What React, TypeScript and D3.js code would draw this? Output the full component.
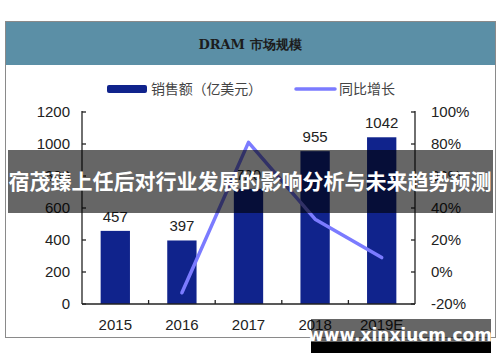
import React from "react";
import * as d3 from "d3";

const years = ["2015", "2016", "2017", "2018", "2019E"];
const sales = [457, 397, 720, 955, 1042];
const growthYears = ["2016", "2017", "2018", "2019E"];
const growth = [-13, 81, 33, 9];
const leftTicks = [0, 200, 400, 600, 800, 1000, 1200];
const rightTicks = [-20, 0, 20, 40, 60, 80, 100];

const W = 500;
const H = 362;
const plot = { left: 82, right: 415, top: 112, bottom: 304 };
const numFont = "'Liberation Sans', Arial, sans-serif";
const cjkFont = "'Noto Sans CJK SC', sans-serif";

export default function App() {
  const x = d3
    .scaleBand<string>()
    .domain(years)
    .range([plot.left, plot.right])
    .paddingInner(0.56)
    .paddingOuter(0.28);
  const y = d3.scaleLinear().domain([0, 1200]).range([plot.bottom, plot.top]);
  const y2 = d3.scaleLinear().domain([-20, 100]).range([plot.bottom, plot.top]);
  const step = (plot.right - plot.left) / years.length;
  const cx = (k: string) => (x(k) as number) + x.bandwidth() / 2;

  const line = d3
    .line<number>()
    .x((d, i) => cx(growthYears[i]))
    .y((d) => y2(d));

  return (
    <svg
      width={W}
      height={H}
      style={{ position: "absolute", left: 0, top: 0, background: "#fff" }}
    >
      {/* frame + header */}
      <rect x={5.5} y={21.5} width={490} height={316} fill="#fff" stroke="#8a8a8a" strokeWidth={1} />
      <rect x={6} y={22} width={489} height={43} fill="#5b8fa6" />
      <text
        x={250}
        y={49}
        textAnchor="middle"
        fontFamily="'DejaVu Serif', serif"
        fontWeight="bold"
        fontSize={13}
        fill="#1c1c1c"
      >
        DRAM 市场规模
      </text>

      {/* legend */}
      <rect x={107} y={85} width={40} height={8} rx={2} fill="#10238c" />
      <text x={151} y={94} fontFamily={cjkFont} fontSize={14} fill="#444" textLength={111}>
        销售额（亿美元）
      </text>
      <line x1={296} x2={335} y1={89} y2={89} stroke="#7b7bff" strokeWidth={3.5} strokeLinecap="round" />
      <text x={339} y={94} fontFamily={cjkFont} fontSize={14} fill="#444">
        同比增长
      </text>

      {/* bars */}
      {sales.map((v, i) => (
        <g key={years[i]}>
          <rect
            x={x(years[i])}
            y={y(v)}
            width={x.bandwidth()}
            height={plot.bottom - y(v)}
            fill="#10238c"
          />
          <text
            x={cx(years[i])}
            y={y(v) - 9}
            textAnchor="middle"
            fontFamily={numFont}
            fontSize={15}
            fill="#222"
          >
            {v}
          </text>
        </g>
      ))}

      {/* growth line */}
      <path
        d={line(growth) || ""}
        fill="none"
        stroke="#7b7bff"
        strokeWidth={3.5}
        strokeLinejoin="round"
        strokeLinecap="round"
      />

      {/* axes */}
      <g stroke="#222" strokeWidth={1.3} fill="none">
        <line x1={plot.left} x2={plot.left} y1={plot.top - 1} y2={plot.bottom} />
        <line x1={plot.right} x2={plot.right} y1={plot.top - 1} y2={plot.bottom} />
        <line x1={plot.left} x2={plot.right} y1={plot.bottom} y2={plot.bottom} />
        {leftTicks.map((t) => (
          <line key={"l" + t} x1={plot.left} x2={plot.left + 4} y1={y(t)} y2={y(t)} />
        ))}
        {rightTicks.map((t) => (
          <line key={"r" + t} x1={plot.right - 4} x2={plot.right} y1={y2(t)} y2={y2(t)} />
        ))}
        {years.slice(1).map((k, i) => (
          <line
            key={"x" + k}
            x1={plot.left + step * (i + 1)}
            x2={plot.left + step * (i + 1)}
            y1={plot.bottom}
            y2={plot.bottom - 4}
          />
        ))}
      </g>
      {leftTicks.map((t) => (
        <text
          key={"lt" + t}
          x={70}
          y={y(t) + 5}
          textAnchor="end"
          fontFamily={numFont}
          fontSize={15}
          fill="#222"
        >
          {t}
        </text>
      ))}
      {rightTicks.map((t) => (
        <text
          key={"rt" + t}
          x={431}
          y={y2(t) + 5}
          fontFamily={numFont}
          fontSize={15}
          fill="#222"
        >
          {t + "%"}
        </text>
      ))}
      {years.map((k) => (
        <text
          key={"xt" + k}
          x={cx(k)}
          y={330}
          textAnchor="middle"
          fontFamily={numFont}
          fontSize={15}
          fill="#222"
        >
          {k}
        </text>
      ))}

      {/* overlay banner */}
      <rect x={8} y={150} width={485} height={63} fill="#000" opacity={0.6} />
      <text
        x={250}
        y={189}
        textAnchor="middle"
        fontFamily={cjkFont}
        fontWeight="bold"
        fontSize={21}
        fill="#fff"
      >
        宿茂臻上任后对行业发展的影响分析与未来趋势预测
      </text>

      {/* watermark */}
      <rect x={311} y={319} width={180} height={23} fill="#000" opacity={0.6} />
      <rect x={311} y={342} width={180} height={11} fill="#000" />
      <text
        x={400}
        y={341}
        textAnchor="middle"
        fontFamily="'DejaVu Sans', sans-serif"
        fontWeight="bold"
        fontSize={17}
        fill="#fff"
      >
        www.xinxiucm.com
      </text>
    </svg>
  );
}
